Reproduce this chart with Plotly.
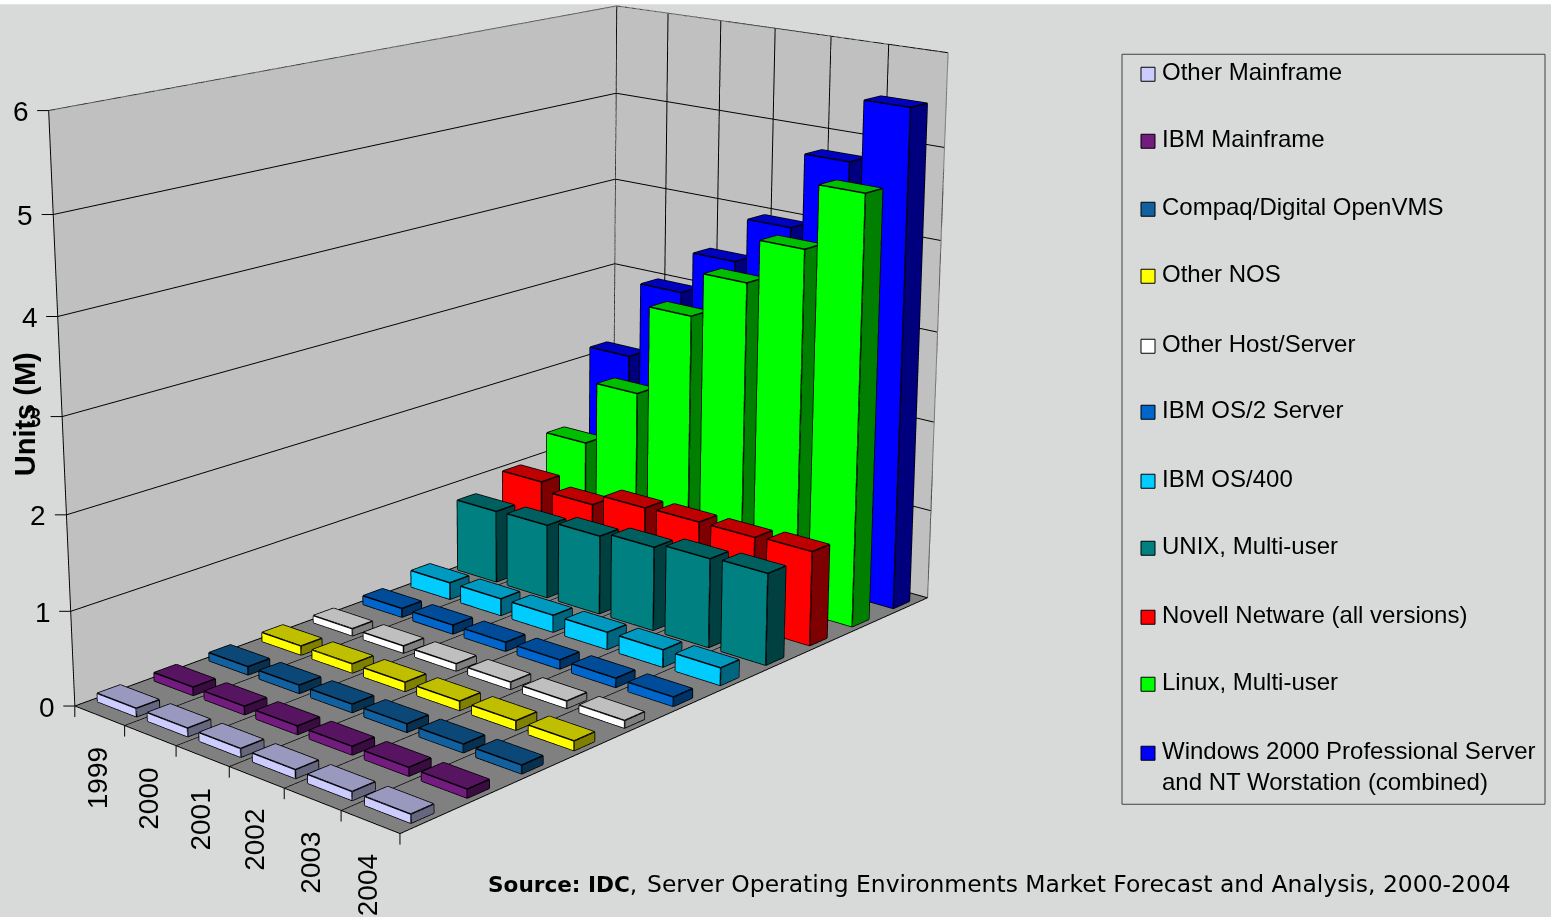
import plotly.graph_objects as go

years = ["1999", "2000", "2001", "2002", "2003", "2004"]
series_names = ["Other Mainframe", "IBM Mainframe", "Compaq/Digital OpenVMS", "Other NOS", "Other Host/Server",
                "IBM OS/2 Server", "IBM OS/400", "UNIX, Multi-user", "Novell Netware (all versions)",
                "Linux, Multi-user", "Windows 2000 Professional Server<br>and NT Worstation (combined)"]
other_mainframe = [0.09, 0.09, 0.09, 0.09, 0.09, 0.09]
ibm_mainframe = [0.09, 0.09, 0.09, 0.09, 0.09, 0.09]
compaq_vms = [0.09, 0.09, 0.09, 0.09, 0.09, 0.09]
other_nos = [0.10, 0.10, 0.10, 0.10, 0.10, 0.10]
other_host = [0.08, 0.08, 0.08, 0.08, 0.08, 0.08]
ibm_os2 = [0.10, 0.10, 0.10, 0.10, 0.10, 0.10]
ibm_os400 = [0.19, 0.19, 0.19, 0.19, 0.19, 0.19]
unix_mu = [0.82, 0.83, 0.88, 0.93, 0.98, 1.00]
novell = [0.98, 0.88, 1.01, 1.02, 1.02, 1.04]
linux_mu = [1.26, 1.99, 3.01, 3.51, 4.00, 4.71]
windows = [2.12, 3.00, 3.48, 3.98, 4.81, 5.49]
all_values = [other_mainframe, ibm_mainframe, compaq_vms, other_nos, other_host, ibm_os2, ibm_os400, unix_mu, novell, linux_mu, windows]
front_colors = ["#CCCCFF", "#741B80", "#11609F", "#FFFF00", "#FFFFFF", "#0066CC", "#00CCFF", "#008080", "#FF0000", "#00FF00", "#0000FF"]
legend_y = [72, 139, 207, 274, 344, 410, 479, 546, 615, 682, 751]
z_ticks = [0, 1, 2, 3, 4, 5, 6]
x_edges = [0, 1, 2, 3, 4, 5, 6]

# Camera solved against the reference's box corners: long lens, so the figure is taller than the window
# and shifted up; the visible 1551x917 window holds the whole chart.
CX, CY, FH, FW = 532.35, 367.75, 2538, 1551
TOP = CY - FH/2
px = lambda x: x/FW
py = lambda y: 1-(y-TOP)/FH

BAR_W = 0.78
BAR_D = 0.40

def darken(c, k):
    c = c.lstrip("#")
    return "#%02X%02X%02X" % tuple(int(int(c[i:i+2],16)*k) for i in (0,2,4))

fig = go.Figure()
ex, ey, ez = [], [], []
for si, vals in enumerate(all_values):
    X, Y, Z, I, J, K, FC = [], [], [], [], [], [], []
    fc, tc, sc = front_colors[si], darken(front_colors[si], .75), darken(front_colors[si], .5)
    for yi, v in enumerate(vals):
        x0, x1 = yi+.5-BAR_W/2, yi+.5+BAR_W/2
        y0, y1 = si+.5-BAR_D/2, si+.5+BAR_D/2
        b = len(X)
        X += [x0,x1,x1,x0,x0,x1,x1,x0]; Y += [y0,y0,y1,y1,y0,y0,y1,y1]; Z += [0,0,0,0,v,v,v,v]
        faces = [(0,1,5,fc),(0,5,4,fc),(1,2,6,sc),(1,6,5,sc),(4,5,6,tc),(4,6,7,tc),(2,3,7,sc),(2,7,6,sc),(3,0,4,sc),(3,4,7,sc)]
        for a,c,d,col in faces:
            I.append(b+a); J.append(b+c); K.append(b+d); FC.append(col)
        for a,c in [(0,1),(1,2),(0,4),(1,5),(2,6),(4,5),(5,6),(6,7),(7,4)]:
            ex += [X[b+a],X[b+c],None]; ey += [Y[b+a],Y[b+c],None]; ez += [Z[b+a],Z[b+c],None]
    fig.add_trace(go.Mesh3d(x=X,y=Y,z=Z,i=I,j=J,k=K,facecolor=FC,flatshading=True,name=series_names[si],
        lighting=dict(ambient=1,diffuse=0,specular=0,roughness=1,fresnel=0),hoverinfo="skip",showscale=False))
fig.add_trace(go.Scatter3d(x=ex,y=ey,z=ez,mode="lines",line=dict(color="#000000",width=3),hoverinfo="skip",showlegend=False))
fig.add_trace(go.Scatter3d(x=[0,0,6,6,None,0,0],y=[0,11,11,11,None,11,11],z=[6,6,6,0,None,0,6],mode="lines",
    line=dict(color="#808080",width=2),hoverinfo="skip",showlegend=False))

ann3d = []
lab = dict(family="Liberation Sans",size=28,color="#000")
for i,y in enumerate(years):
    ann3d.append(dict(x=i+.5,y=0,z=0,text=y,showarrow=False,textangle=-90,xanchor="center",yanchor="top",yshift=-30,xshift=-2,font=lab))
for k in z_ticks:
    ann3d.append(dict(x=0,y=0,z=k,text=str(k),showarrow=False,xanchor="right",xshift=-18,yshift=-1,font=lab))
    ann3d.append(dict(x=0,y=0,z=k,text=" ",showarrow=True,arrowhead=0,arrowwidth=1,arrowcolor="#000",ax=-13,ay=0,standoff=0,font=dict(size=1)))
for k in x_edges:
    ann3d.append(dict(x=k,y=0,z=0,text=" ",showarrow=True,arrowhead=0,arrowwidth=1,arrowcolor="#000",ax=0,ay=13,standoff=0,font=dict(size=1)))

anns = []
shapes = [dict(type="rect",xref="paper",yref="paper",x0=0,x1=1,y0=py(4),y1=py(-2),fillcolor="#FFFFFF",line_width=0),
          dict(type="rect",xref="paper",yref="paper",x0=px(1122),x1=px(1545),y0=py(804),y1=py(54),line=dict(color="#404040",width=1))]
for name,col,ly in zip(series_names,front_colors,legend_y):
    shapes.append(dict(type="rect",xref="paper",yref="paper",x0=px(1141),x1=px(1155),y0=py(ly+9),y1=py(ly-5),fillcolor=col,line=dict(color="#000",width=1)))
    anns.append(dict(x=px(1160),y=py(ly-16),xref="paper",yref="paper",text=name,showarrow=False,xanchor="left",yanchor="top",align="left",
        font=dict(family="Liberation Sans",size=24,color="#000")))
anns.append(dict(x=px(25),y=py(414),xref="paper",yref="paper",text="<b>Units (M)</b>",textangle=-90,showarrow=False,xanchor="center",yanchor="middle",
    font=dict(family="Liberation Sans",size=29,color="#000")))
anns.append(dict(x=px(486),y=py(884),xref="paper",yref="paper",xanchor="left",yanchor="middle",
    text='<b><span style="font-size:21.6px">Source: IDC</span></b>,\u200a Server Operating Environments Market Forecast and Analysis, 2000-2004',showarrow=False,
    font=dict(family="DejaVu Sans",size=23.45,color="#000")))

axis = dict(showbackground=True,backgroundcolor="#C0C0C0",showticklabels=False,title=dict(text=""),zeroline=False,showspikes=False,showline=True,linecolor="#000000",linewidth=2,gridcolor="#000000",gridwidth=2,ticks="")
fig.update_layout(width=FW,height=FH,margin=dict(l=0,r=0,t=0,b=0),paper_bgcolor="#D8DAD9",showlegend=False,shapes=shapes,annotations=anns,
    scene=dict(domain=dict(x=[0,2*CX/FW],y=[0,1]),aspectmode="manual",aspectratio=dict(x=0.7512,y=1.3699,z=1),
        camera=dict(eye=dict(x=3.3416,y=-3.6894,z=1.4269),center=dict(x=0.0205,y=0.0067,z=0.0101),up=dict(x=0,y=0,z=1),projection=dict(type="perspective")),
        xaxis=dict(axis,range=[0,6],tickvals=x_edges),
        yaxis=dict(axis,range=[0,11],showgrid=False,tickvals=[]),
        zaxis=dict(axis,range=[0,6],tickvals=z_ticks,backgroundcolor="#808080"),
        annotations=ann3d))
fig.write_html("out.html",config=dict(displayModeBar=False),
    post_script=f"document.body.style.margin='0';document.documentElement.style.overflow='hidden';document.body.style.overflow='hidden';document.body.style.height='917px';document.getElementById('{{plot_id}}').style.marginTop='{TOP:.2f}px';")
